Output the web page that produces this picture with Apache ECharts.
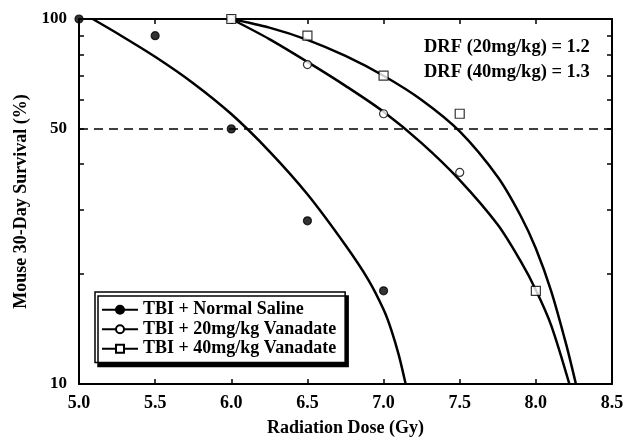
<!DOCTYPE html>
<html>
<head>
<meta charset="utf-8">
<script src="https://cdn.jsdelivr.net/npm/echarts@6/dist/echarts.min.js"></script>
<style>html,body{margin:0;padding:0;background:#fff}#main{width:624px;height:439px}</style>
</head>
<body>
<div id="main"></div>
<script>
// axis ticks
var xTicks=[5.0,5.5,6.0,6.5,7.0,7.5,8.0,8.5];
var yLabelValues=[10,50,100];
var yTickValues=[10,20,30,40,50,60,70,80,90,100];
var seriesNames=["TBI + Normal Saline","TBI + 20mg/kg Vanadate","TBI + 40mg/kg Vanadate"];

// measured survival (dose Gy, %)
var salinePoints=[[5.0,100],[5.5,90],[6.0,50],[6.5,28],[7.0,18]];
var v20Points=[[6.0,100],[6.5,75],[7.0,55],[7.5,38]];
var v40Points=[[6.0,100],[6.5,90],[7.0,70],[7.5,55],[8.0,18]];

// fitted curves
var salineCurve=[[5.09,100],[5.25,91.4],[5.5,78.8],[5.75,66.7],[6.0,54.9],[6.25,43.4],[6.5,33.1],[6.75,24.0],[6.9,19.3],[7.0,16.0],[7.05,14.1],[7.1,12.0],[7.145,10]];
var v20Curve=[[6.0,100],[6.25,88.1],[6.5,76.3],[6.75,65.6],[7.0,55.7],[7.25,45.7],[7.5,36.2],[7.75,27.3],[7.9,21.7],[8.0,18.1],[8.1,14.5],[8.22,10]];
var v40Curve=[[6.0,100],[6.25,94.7],[6.5,87.7],[6.75,79.2],[7.0,69.9],[7.25,60.0],[7.5,49.2],[7.75,36.9],[7.9,28.9],[8.0,23.5],[8.1,18.0],[8.2,12.8],[8.263,10]];

var halfLine=50;
var drfTexts=["DRF (20mg/kg) = 1.2","DRF (40mg/kg) = 1.3"];

var FONT="'Liberation Serif','Times New Roman',serif";
var myChart=echarts.init(document.getElementById('main'));

//拟合曲线（图例图标也取自这里）
function curveSeries(name,data,symbol){
    return {
        name:name,
        type:'line',
        data:data,
        smooth:0.3,
        showSymbol:false,
        symbol:symbol,
        symbolSize:8,
        itemStyle:{color:'#000',borderColor:'#000',borderWidth:1.2},
        lineStyle:{color:'#000',width:2.5},
        silent:true
    };
}
//实测点
function pointSeries(name,data,symbol,fill,size){
    return {
        name:name,
        type:'scatter',
        data:data,
        symbol:symbol,
        symbolSize:size,
        clip:false,
        z:5,
        itemStyle:{color:fill,borderColor:'#000',borderWidth:1.2}
    };
}

var axisLine={lineStyle:{color:'#000',width:2}};
var tickStyle={inside:true,length:5,lineStyle:{color:'#000',width:1.5}};
var labelFont={fontFamily:FONT,fontWeight:'bold',color:'#000'};

var option={
    animation:false,
    textStyle:{fontFamily:FONT},
    grid:{left:79,right:12,top:19,bottom:55,outerBoundsMode:'none',containLabel:false},
    legend:{
        orient:'vertical',
        left:95,
        top:292,
        data:seriesNames,
        itemWidth:36,
        itemHeight:10,
        itemGap:0,
        padding:[8,9,4,6],
        backgroundColor:'#fff',
        borderColor:'#000',
        borderWidth:1.5,
        shadowColor:'#000',
        shadowBlur:0,
        shadowOffsetX:3,
        shadowOffsetY:4,
        textStyle:{fontFamily:FONT,fontWeight:'bold',fontSize:18,color:'#000',lineHeight:19.5}
    },
    xAxis:[{
        type:'value',
        min:xTicks[0],
        max:xTicks[xTicks.length-1],
        interval:0.5,
        name:'Radiation Dose (Gy)',
        nameLocation:'middle',
        nameGap:35,
        nameTextStyle:Object.assign({fontSize:18},labelFont),
        axisLine:axisLine,
        axisTick:tickStyle,
        splitLine:{show:false},
        axisLabel:Object.assign({fontSize:18,margin:10,
            formatter:function(v){return v.toFixed(1);}},labelFont)
    },{
        type:'value',
        position:'top',
        min:xTicks[0],
        max:xTicks[xTicks.length-1],
        interval:0.5,
        axisLine:axisLine,
        axisTick:tickStyle,
        axisLabel:{show:false},
        splitLine:{show:false}
    }],
    yAxis:[{
        type:'log',
        logBase:10,
        min:10,
        max:100,
        name:'Mouse 30-Day Survival (%)',
        nameLocation:'middle',
        nameGap:48,
        nameTextStyle:Object.assign({fontSize:18},labelFont),
        axisLine:axisLine,
        axisTick:{inside:true,length:5,lineStyle:{color:'#000',width:1.5},customValues:yTickValues},
        minorTick:{show:false},
        splitLine:{show:false},
        axisLabel:Object.assign({fontSize:17,margin:12,customValues:yLabelValues},labelFont)
    },{
        type:'log',
        logBase:10,
        min:10,
        max:100,
        position:'right',
        axisLine:axisLine,
        axisTick:{inside:true,length:5,lineStyle:{color:'#000',width:1.5},customValues:yTickValues},
        axisLabel:{show:false},
        splitLine:{show:false}
    }],
    graphic:[
        {type:'text',left:424,top:38,style:{text:drfTexts[0],font:"bold 18.5px "+FONT,fill:'#000'}},
        {type:'text',left:424,top:63,style:{text:drfTexts[1],font:"bold 18.5px "+FONT,fill:'#000'}}
    ],
    series:[
        curveSeries(seriesNames[0],salineCurve,'circle'),
        curveSeries(seriesNames[1],v20Curve,'emptyCircle'),
        curveSeries(seriesNames[2],v40Curve,'emptyRect'),
        pointSeries(seriesNames[0],salinePoints,'circle','#000',8),
        pointSeries(seriesNames[1],v20Points,'circle','#fff',8),
        pointSeries(seriesNames[2],v40Points,'rect','#fff',9),
        {
            type:'line',
            data:[],
            markLine:{
                silent:true,
                symbol:'none',
                label:{show:false},
                lineStyle:{color:'#000',type:[9,6],width:1.5},
                data:[{yAxis:halfLine}]
            }
        }
    ]
};
myChart.setOption(option);
</script>
</body>
</html>
